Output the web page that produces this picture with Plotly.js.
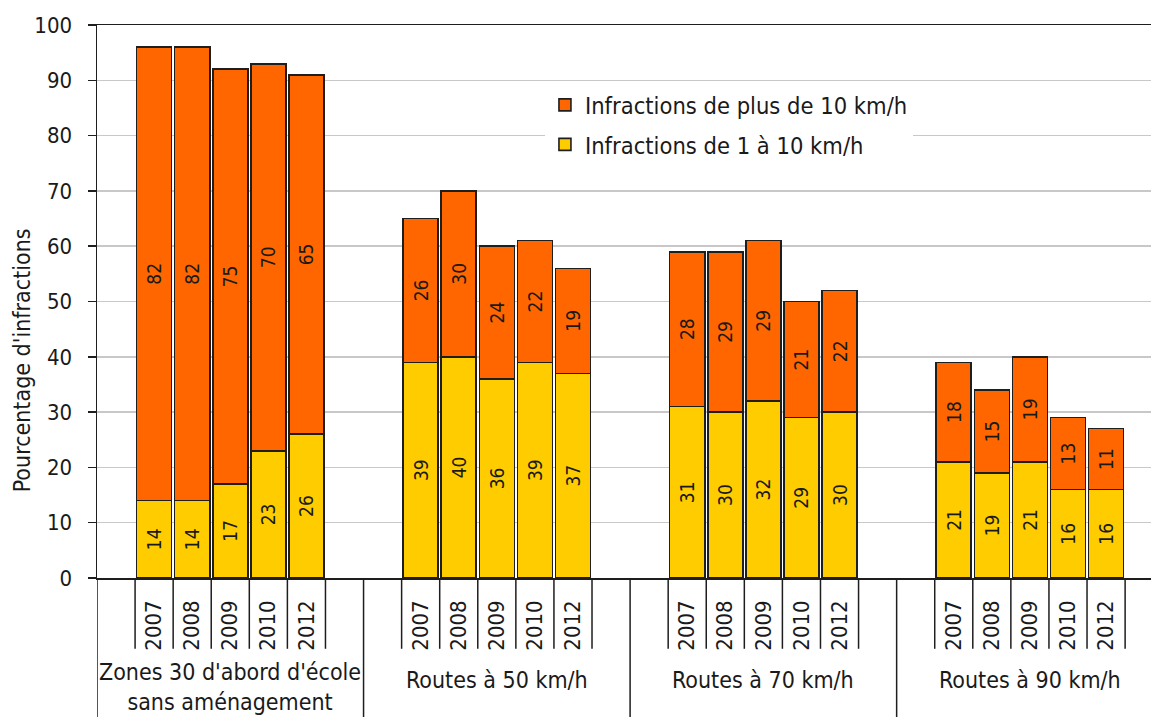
<!DOCTYPE html>
<html>
<head>
<meta charset="utf-8">
<script src="https://cdn.plot.ly/plotly-3.0.1.min.js"></script>
<style>
  html, body { margin: 0; padding: 0; background: #fff; }
  #chart { width: 1151px; height: 717px; }
</style>
</head>
<body>
<div id="chart"></div>
<script>
// Road categories (one group of bars each)
const groups = [
  "Zones 30 d'abord d'école<br>sans aménagement",
  "Routes à 50 km/h",
  "Routes à 70 km/h",
  "Routes à 90 km/h"
];
// Survey years within each group
const years = ["2007", "2008", "2009", "2010", "2012"];

// Share of drivers over the limit by 1 to 10 km/h (%)
const smallExcess = [
  [14, 14, 17, 23, 26],
  [39, 40, 36, 39, 37],
  [31, 30, 32, 29, 30],
  [21, 19, 21, 16, 16]
];
// Share of drivers over the limit by more than 10 km/h (%)
const largeExcess = [
  [82, 82, 75, 70, 65],
  [26, 30, 24, 22, 19],
  [28, 29, 29, 21, 22],
  [18, 15, 19, 13, 11]
];

const seriesNames = ["Infractions de 1 à 10 km/h", "Infractions de plus de 10 km/h"];
const seriesColors = ["#FFCC00", "#FF6600"];
// Legend lists the upper segment first
const legendRanks = [2, 1];

// Each group takes 7 slots on the x axis: one empty slot, five years, one empty slot
const SLOTS = 7;
const slotOf = (g, j) => g * SLOTS + 1 + j;

const xs = [], tickText = [];
groups.forEach((_, g) => years.forEach((y, j) => { xs.push(slotOf(g, j)); tickText.push(y); }));
const flat = arr => arr.reduce((a, b) => a.concat(b), []);

const FONT = "'DejaVu Sans Condensed', 'Liberation Sans', Arial, sans-serif";
const INK = "#1a1a1a";
const EDGE = "#1e1e1e";

const traces = [smallExcess, largeExcess].map((vals, k) => ({
  type: "bar",
  name: seriesNames[k],
  legendgroup: "s" + k,
  legendrank: legendRanks[k],
  x: xs,
  y: flat(vals),
  width: 0.92,
  marker: { color: seriesColors[k], line: { color: EDGE, width: 1.6 } },
  texttemplate: "%{y}",
  textposition: "inside",
  insidetextanchor: "middle",
  textangle: -90,
  constraintext: "none",
  textfont: { family: FONT, size: 19, color: INK },
  hoverinfo: "skip"
}));

// Separator lines under the axis: short ones around each year, long ones between groups
const shapes = [];
groups.forEach((_, g) => {
  for (let j = 0; j <= years.length; j++) {
    shapes.push({
      type: "line", xref: "x", yref: "paper",
      x0: slotOf(g, j) - 0.5, x1: slotOf(g, j) - 0.5, y0: 0, y1: -0.128,
      line: { color: EDGE, width: 1.5 }
    });
  }
  shapes.push({
    type: "line", xref: "x", yref: "paper",
    x0: g * SLOTS - 0.5, x1: g * SLOTS - 0.5, y0: 0, y1: -0.3,
    line: { color: EDGE, width: 1.5 }
  });
});

// Group names centred under their five bars; the two-line name sits a little higher
const annotations = groups.map((name, g) => ({
  xref: "x", yref: "paper",
  x: slotOf(g, 2), y: g === 0 ? -0.143 : -0.158,
  xanchor: "center", yanchor: "top",
  text: name, showarrow: false,
  font: { family: FONT, size: 23, color: INK }
}));
annotations.push({
  xref: "paper", yref: "paper",
  x: -0.071, y: 0.394, xanchor: "center", yanchor: "middle",
  text: "Pourcentage d'infractions", textangle: -90, showarrow: false,
  font: { family: FONT, size: 23, color: INK }
});

const layout = {
  width: 1151, height: 717,
  margin: { l: 97, r: 0, t: 25, b: 139 },
  paper_bgcolor: "#fff", plot_bgcolor: "#fff",
  barmode: "stack",
  showlegend: true,
  legend: {
    x: 0.425, y: 0.895, xanchor: "left", yanchor: "top",
    bgcolor: "#fff", borderwidth: 0,
    traceorder: "grouped",
    tracegroupgap: 6,
    font: { family: FONT, size: 23.5, color: INK }
  },
  xaxis: {
    type: "linear",
    range: [-0.5, 27.18],
    tickmode: "array", tickvals: xs, ticktext: tickText,
    tickangle: -90, ticks: "",
    ticklabelstandoff: 12,
    tickfont: { family: FONT, size: 22, color: INK },
    showgrid: false, zeroline: false,
    showline: true, mirror: true, linecolor: EDGE, linewidth: 1.5
  },
  yaxis: {
    range: [0, 100], dtick: 10,
    ticks: "outside", ticklen: 8, tickwidth: 1.5, tickcolor: EDGE,
    ticklabelstandoff: 11,
    tickfont: { family: FONT, size: 22, color: INK },
    showgrid: true, gridcolor: "#c8c8c8", gridwidth: 1.5,
    zeroline: false,
    showline: true, linecolor: EDGE, linewidth: 1.5
  },
  shapes: shapes,
  annotations: annotations
};

Plotly.newPlot("chart", traces, layout, { displayModeBar: false, staticPlot: true });
</script>
</body>
</html>
